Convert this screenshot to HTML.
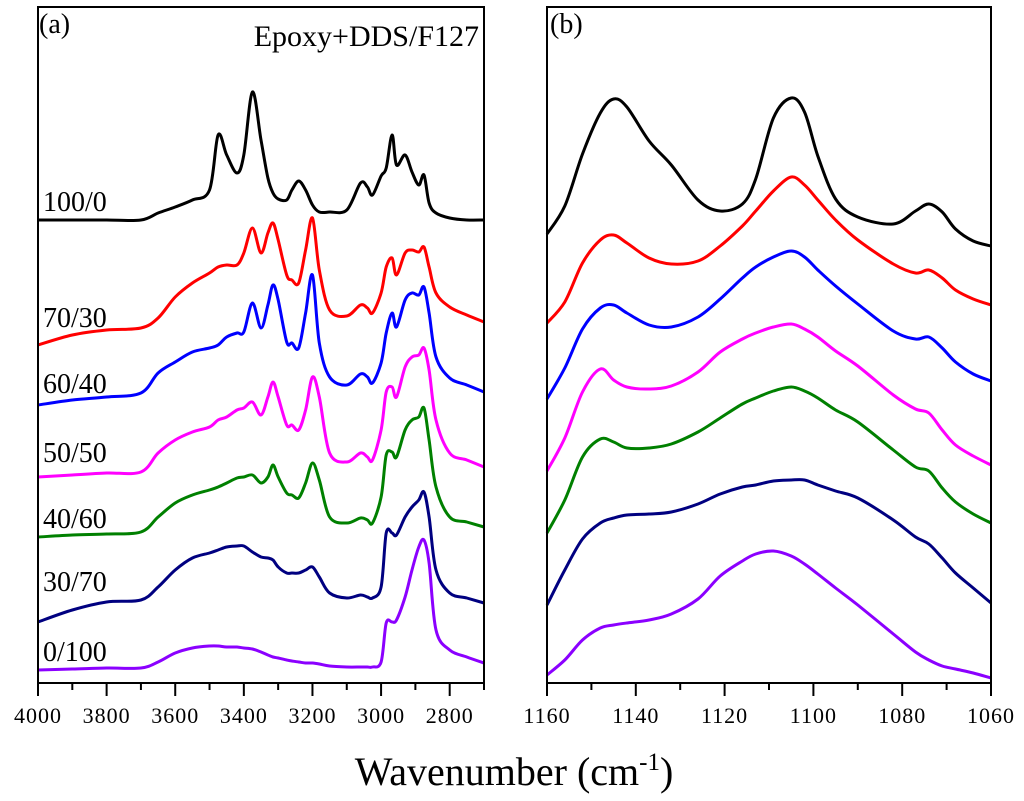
<!DOCTYPE html>
<html><head><meta charset="utf-8"><style>
body{margin:0;background:#fff}
svg{display:block;font-family:"Liberation Serif",serif}
</style></head><body>
<svg id="chart" width="1024" height="801" viewBox="0 0 1024 801">
<text x="39" y="33" font-size="28">(a)</text>
<text x="479" y="46" font-size="30" text-anchor="end">Epoxy+DDS/F127</text>
<text x="550" y="33" font-size="28">(b)</text>
<text x="514" y="785" font-size="40" text-anchor="middle">Wavenumber (cm<tspan dy="-15" font-size="25">-1</tspan><tspan dy="15">)</tspan></text>
</svg>
<script>
// ---- data ----
const waveA=[4000,3900,3800,3700,3650,3600,3550,3500,3475,3450,3420,3400,3375,3350,3330,3315,3300,3275,3260,3240,3220,3200,3180,3150,3100,3060,3040,3025,3000,2985,2968,2955,2930,2910,2890,2875,2860,2840,2800,2750,2700];
const a100_0=[463,463,463,463,470,476,483,493,548,528,510,528,591,543,505,490,484,483,493,502,493,478,471,471,473,500,496,488,507,515,548,518,528,511,498,508,480,470,465,463,463];
const a70_30=[338,348,353,355,365,386,400,410,416,418,418,430,455,430,450,460,443,408,403,400,433,465,413,373,367,378,375,370,390,416,425,408,430,433,431,436,416,390,376,368,361];
const a60_40=[278,283,286,290,310,321,331,335,338,346,350,351,380,355,378,398,383,341,340,335,370,408,340,306,298,309,306,300,320,350,370,356,383,390,388,396,370,326,305,298,291];
const a50_50=[206,208,210,211,230,243,251,256,263,266,273,275,281,268,286,301,286,258,258,253,273,306,286,230,221,230,226,223,253,291,296,286,316,326,328,335,313,263,230,223,216];
const a40_60=[146,148,149,151,166,180,188,193,196,200,205,206,208,200,206,218,206,190,188,185,200,220,203,166,160,165,163,160,186,228,231,226,253,263,266,275,243,196,166,161,156];
const a30_70=[61,73,81,83,96,113,125,130,133,136,137,137,131,126,125,123,116,110,110,110,113,116,106,90,85,88,86,85,96,150,150,148,166,176,183,191,166,113,90,85,80];
const a0_100=[13,14,15,15,21,30,35,37,37,36,36,35,34,31,28,26,25,23,22,21,20,20,19,17,16,16,16,16,21,60,61,63,86,113,136,143,120,53,33,26,20];
const waveB=[1160,1156,1152,1148,1145,1142,1137,1132,1126,1121,1116,1113,1109,1105,1102,1099,1095,1090,1082,1077,1074,1071,1068,1064,1060];
const b100_0=[449,477,529,570,584,576,542,518,483,472,479,504,565,585,571,527,484,466,459,472,479,471,454,442,437];
const b70_30=[360,381,420,443,448,440,425,419,422,437,457,472,492,506,498,483,463,443,419,410,413,405,393,384,378];
const b60_40=[284,315,354,375,378,370,358,356,366,384,405,416,426,432,426,413,397,379,352,344,346,335,321,309,302];
const b50_50=[212,245,291,314,303,296,294,297,311,331,344,350,356,359,354,346,332,317,288,274,270,253,238,227,218];
const b40_60=[150,183,226,244,241,235,235,239,251,265,279,285,292,296,292,285,273,261,233,216,212,195,181,169,160];
const b30_70=[78,113,144,160,165,168,169,171,179,189,196,198,202,203,203,198,192,185,163,146,139,125,110,95,80];
const b0_100=[8,23,43,55,58,60,63,69,84,107,122,129,132,127,119,109,95,78,49,31,23,17,14,10,5];
const seriesLabels=["100/0","70/30","60/40","50/50","40/60","30/70","0/100"];
const colors=["#000000","#ff0000","#0000ff","#ff00ff","#008000","#000080","#8b00ff"];
const ticksA=[4000,3800,3600,3400,3200,3000,2800];
const ticksB=[1160,1140,1120,1100,1080,1060];
const seriesA=[a100_0,a70_30,a60_40,a50_50,a40_60,a30_70,a0_100];
const seriesB=[b100_0,b70_30,b60_40,b50_50,b40_60,b30_70,b0_100];

const NS="http://www.w3.org/2000/svg";
const svg=document.getElementById('chart');
const TOP=7,BOT=683;
const yS=v=>BOT-(v/676)*(BOT-TOP);
const xA=w=>38+(4000-w)/1300*446;
const xB=w=>547+(1160-w)/100*444;
function mk(t,at){const e=document.createElementNS(NS,t);for(const k in at)e.setAttribute(k,at[k]);svg.appendChild(e);return e;}
function smooth(pts){let d=`M${pts[0][0].toFixed(1)},${pts[0][1].toFixed(1)}`;
 for(let i=0;i<pts.length-1;i++){const p0=pts[Math.max(0,i-1)],p1=pts[i],p2=pts[i+1],p3=pts[Math.min(pts.length-1,i+2)];
  const c1=[p1[0]+(p2[0]-p0[0])/6,p1[1]+(p2[1]-p0[1])/6],c2=[p2[0]-(p3[0]-p1[0])/6,p2[1]-(p3[1]-p1[1])/6];
  d+=`C${c1[0].toFixed(1)},${c1[1].toFixed(1)} ${c2[0].toFixed(1)},${c2[1].toFixed(1)} ${p2[0].toFixed(1)},${p2[1].toFixed(1)}`;}
 return d;}

seriesA.forEach((s,i)=>{const p=mk('path',{d:smooth(waveA.map((w,j)=>[xA(w),yS(s[j])])),fill:'none',stroke:colors[i],'stroke-width':3,'stroke-linejoin':'round'});

});
seriesB.forEach((s,i)=>{const p=mk('path',{d:smooth(waveB.map((w,j)=>[xB(w),yS(s[j])])),fill:'none',stroke:colors[i],'stroke-width':3,'stroke-linejoin':'round'});

});

const fa=mk('rect',{x:38,y:TOP,width:446,height:BOT-TOP,fill:'none',stroke:'#000','stroke-width':2});


const fb=mk('rect',{x:547,y:TOP,width:444,height:BOT-TOP,fill:'none',stroke:'#000','stroke-width':2});



for(let w=4000;w>=2700;w-=100){const maj=w%200===0;const x=xA(w);
 const t=mk('line',{x1:x,x2:x,y1:BOT,y2:BOT+(maj?13:7),stroke:'#000','stroke-width':2});
 
 }
ticksA.forEach(w=>{const t=mk('text',{x:xA(w),y:723,'text-anchor':'middle','font-size':22,'letter-spacing':1});t.textContent=w;
 
 });
for(let w=1160;w>=1060;w-=10){const maj=w%20===0;const x=xB(w);
 const t=mk('line',{x1:x,x2:x,y1:BOT,y2:BOT+(maj?13:7),stroke:'#000','stroke-width':2});
 
 }
ticksB.forEach(w=>{const t=mk('text',{x:xB(w),y:723,'text-anchor':'middle','font-size':22,'letter-spacing':1});t.textContent=w;
 
 });

const labelY=[211,327,393,462,528,591,661];
seriesLabels.forEach((l,i)=>{const t=mk('text',{x:43,y:labelY[i],'font-size':28});t.textContent=l;
 
 });
</script>
</body></html>
